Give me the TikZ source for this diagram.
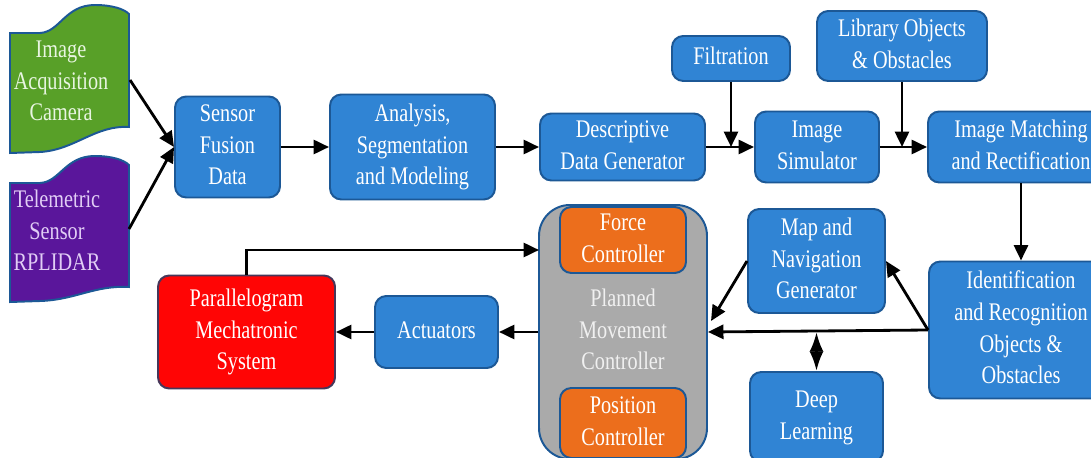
\documentclass[tikz,border=0pt]{standalone}
\usepackage{fontspec}
\usepackage{graphicx}
\setmainfont{Liberation Serif}
\usetikzlibrary{arrows.meta}

\definecolor{boxblue}{RGB}{48,132,212}
\definecolor{blueedge}{RGB}{28,88,150}
\definecolor{camgreen}{RGB}{88,160,40}
\definecolor{camtext}{RGB}{232,245,225}
\definecolor{lidpurple}{RGB}{90,22,155}
\definecolor{lidtext}{RGB}{225,205,245}
\definecolor{mechred}{RGB}{255,5,5}
\definecolor{mechedge}{RGB}{70,55,90}
\definecolor{ctrlorange}{RGB}{236,110,28}
\definecolor{plangray}{RGB}{170,170,170}
\definecolor{plantext}{RGB}{240,240,240}

\newcommand{\sqz}[1]{\scalebox{0.8}[1]{\begin{tabular}{@{}c@{}}#1\end{tabular}}}

\tikzset{
  blk/.style={draw=blueedge, line width=1.4pt, fill=boxblue, rounded corners=8pt,
    text=white, align=center, inner sep=0pt,
    font=\fontsize{18}{22.5}\selectfont},
  wh/.style 2 args={minimum width=#1*0.025cm, minimum height=#2*0.025cm},
  bannerline/.style={draw=blueedge, line width=1.4pt},
  bantext/.style={align=center, inner sep=0pt, font=\fontsize{18}{22.5}\selectfont},
  arr/.style={line width=2pt, -{Triangle[length=11pt,width=10pt]}},
}

\begin{document}
\begin{tikzpicture}[x=0.025cm,y=-0.025cm]
\clip (0,0) rectangle (1091,458);
\fill[white] (0,0) rectangle (1091,458);

\draw[bannerline, fill=camgreen] (10,33) -- (40,33) .. controls (60,32) and (65,5) .. (95,5)
  .. controls (112,5) and (124,9) .. (129,14) -- (129,127)
  .. controls (95,125) and (75,150) .. (40,152) -- (10,153) -- cycle;
\draw[bannerline, fill=lidpurple] (10,183) -- (40,183) .. controls (60,182) and (65,156) .. (95,156)
  .. controls (112,156) and (124,160) .. (129,165) -- (129,287)
  .. controls (95,285) and (75,300) .. (40,301) -- (10,302) -- cycle;
\node[bantext, text=camtext] (cam) at (61,83) {\sqz{Image\\Acquisition\\Camera}};
\node[bantext, text=lidtext] (lidar) at (57,233) {\sqz{Telemetric\\Sensor\\RPLIDAR}};
\coordinate (camr) at (130,80);
\coordinate (lidr) at (129,229);

\node[blk, wh={105}{101}] (fusion) at (227.5,147) {\sqz{Sensor\\Fusion\\Data}};
\node[blk, wh={165}{105}] (analysis) at (412.5,147) {\sqz{Analysis,\\Segmentation\\and Modeling}};
\node[blk, wh={165}{67}] (descr) at (622.5,147) {\sqz{Descriptive\\Data Generator}};
\node[blk, wh={118}{45}] (filtr) at (731,58.5) {\sqz{Filtration}};
\node[blk, wh={170}{70}] (library) at (902,46) {\sqz{Library Objects\\\& Obstacles}};
\node[blk, wh={124}{71}] (simul) at (817,147) {\sqz{Image\\Simulator}};
\node[blk, wh={186}{71}] (matching) at (1021,147) {\sqz{Image Matching\\and Rectification}};
\node[blk, wh={184}{137}] (ident) at (1021,330) {\sqz{Identification\\and Recognition\\Objects \&\\Obstacles}};
\node[blk, wh={137}{104}] (mapnav) at (816.5,261) {\sqz{Map and\\Navigation\\Generator}};
\node[blk, wh={133}{90}] (deep) at (816.5,417) {\sqz{Deep\\Learning}};
\node[blk, wh={168}{254}, fill=plangray, rounded corners=22pt, text=plantext] (planned) at (623,332) {\sqz{Planned\\Movement\\Controller}};
\node[blk, wh={126}{66}, fill=ctrlorange] (force) at (623,240) {\sqz{Force\\Controller}};
\node[blk, wh={126}{70}, fill=ctrlorange] (position) at (623,423) {\sqz{Position\\Controller}};
\node[blk, wh={123}{72}] (actuators) at (436.5,332) {\sqz{Actuators}};
\node[blk, wh={177}{113}, fill=mechred, draw=mechedge] (parallel) at (246.5,332) {\sqz{Parallelogram\\Mechatronic\\System}};

\coordinate (fbk) at (539,250);
\coordinate (mapin) at (711,321);

\draw[arr] (camr) -- (fusion.west);
\draw[arr] (lidr) -- (fusion.west);
\draw[arr] (fusion) -- (analysis);
\draw[arr] (analysis) -- (descr);
\draw[arr] (descr) -- (simul);
\draw[arr] (filtr) -- (filtr |- simul.west);
\draw[arr] (simul) -- (matching);
\draw[arr] (library) -- (library |- matching.west);
\draw[arr] (matching) -- (ident);
\draw[arr] (ident.west) -- (planned.east);
\draw[arr] (ident.west) -- (mapnav.east);
\draw[arr] (mapnav.west) -- (mapin);
\draw[line width=2pt, {Latex[length=14pt,width=10pt]}-{Latex[length=14pt,width=10pt]}] (deep.north |- planned.east) -- (deep.north);
\draw[arr] (planned.west) -- (actuators.east);
\draw[arr] (actuators) -- (parallel);
\draw[arr] (parallel.north) |- (fbk);
\end{tikzpicture}
\end{document}
